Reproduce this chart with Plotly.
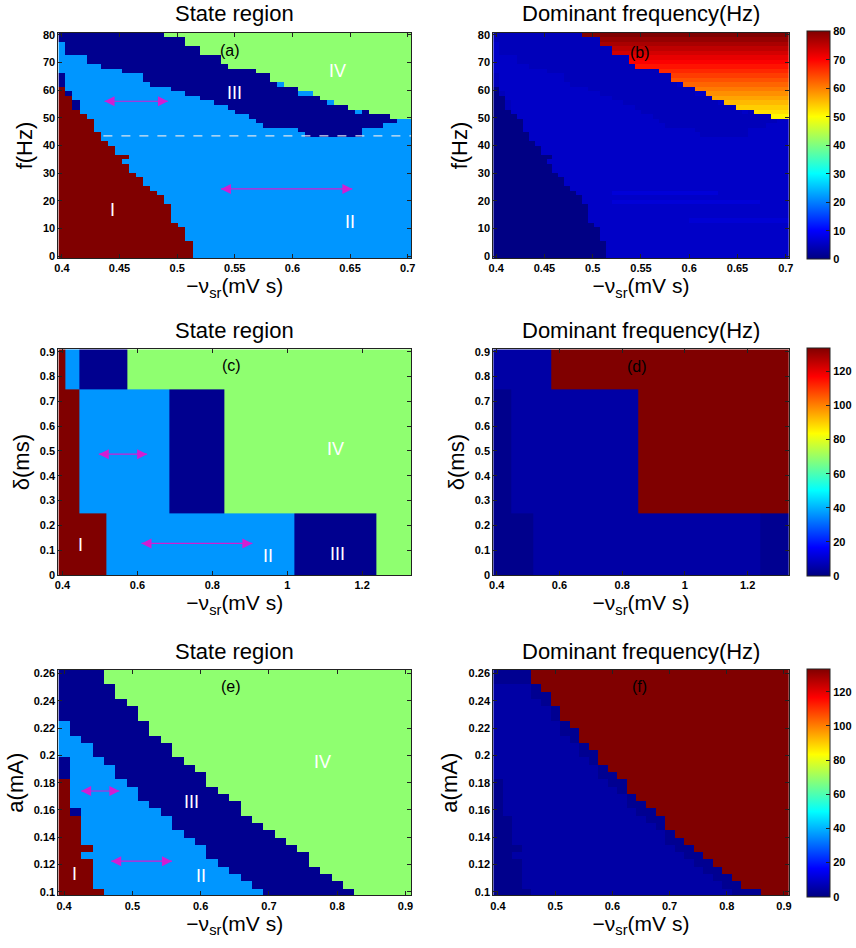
import numpy as np
import plotly.graph_objects as go
from plotly.subplots import make_subplots

# ------------------------------------------------------------------ colours
STATE_COLORS = ["#800000", "#0096FF", "#00008F", "#8FFF70"]   # I, II, III, IV
JET = [[0.0, "rgb(0,0,128)"], [0.125, "rgb(0,0,255)"], [0.375, "rgb(0,255,255)"],
       [0.625, "rgb(255,255,0)"], [0.875, "rgb(255,0,0)"], [1.0, "rgb(128,0,0)"]]
ARROW_COLOR = "#D21ED2"
FONT = "Liberation Sans, Arial, Helvetica, sans-serif"

# ------------------------------------------------------------------ panel (a)/(b): f vs -v_sr
a_x = np.linspace(0.4, 0.7, 50)          # -v_sr grid (mV s)
a_f = np.linspace(0.0, 80.0, 50)         # f grid (Hz)
# upper f limit of state I / II / III in each -v_sr column (Hz)
a_I_top = [61.06, 58.07, 53.28, 51.49, 49.69, 44.9, 41.3, 40.1, 36.77, 36.77,
           30.18, 28.51, 25.16, 23.6, 22.17, 18.57, 12.35, 10.55, 5.77] + [-5.0] * 31
a_II_top = [77.22, 73.03, 73.03, 73.03, 69.44, 69.44, 67.65, 67.65, 67.65, 66.45,
            66.45, 66.45, 62.86, 61.66, 61.66, 61.66, 59.87, 59.27, 57.47, 57.47,
            56.28, 56.28, 55.08, 53.88, 52.69, 51.13, 51.13, 49.94, 48.14, 46.47,
            46.47, 46.47, 46.47, 46.47, 44.91, 43.48, 43.48, 43.48, 43.48, 43.48,
            43.48, 43.48, 43.48, 46.47, 46.47, 46.47, 48.14, 48.5, 49.7, 49.7]
a_III_top = [90.0] * 15 + [79.38, 79.38, 79.38, 76.03, 76.03, 72.8, 72.8, 72.8, 69.4, 68.5,
                           67.9, 67.9, 67.9, 66.45, 66.45, 62.86, 62.86, 61.66, 61.66, 59.87,
                           59.87, 58.07, 56.28, 56.28, 54.48, 54.48, 53.28, 52.69, 52.69, 51.49,
                           51.49, 51.49, 50.29, 49.9, 49.7]
# isolated cells (column, row, state)
a_cells = [(0, 38, 3), (0, 39, 3), (0, 40, 3), (1, 36, 3), (2, 33, 3), (2, 34, 3),
           (9, 21, 2), (31, 38, 2), (34, 36, 2), (35, 36, 2), (38, 34, 2), (42, 32, 2)]
# dominant frequency (Hz) of states I, II, III in panel (b); state IV follows f
b_state_freq = {1: 0.3, 2: 5.6, 3: 4.6}
b_bright = [(0.519, 0.63, 22.0, 24.0, 6.9), (0.519, 0.67, 19.0, 21.0, 6.9),
            (0.60, 0.70, 11.5, 13.5, 6.6)]
b_zmax = 80
a_dash_f = 43.47
a_dash_x = (0.436, 0.7031)
a_arrows = [(0.437, 0.492, 56.0), (0.538, 0.652, 24.3)]
a_labels = [("(a)", 0.546, 74.5, "black"), ("IV", 0.639, 66.9, "white"),
            ("III", 0.55, 58.9, "white"), ("I", 0.444, 16.7, "white"),
            ("II", 0.65, 12.3, "white")]
b_labels = [("(b)", 0.5495, 73.8, "black")]

# ------------------------------------------------------------------ panel (c)/(d): delta vs -v_sr
c_x_edges = [0.389, 0.409, 0.445, 0.518, 0.574, 0.685, 0.832, 1.018, 1.239, 1.331]
c_y_edges = [0.0, 0.25, 0.75, 0.91]
c_states = [[1, 1, 1, 2, 2, 2, 2, 3, 4],
            [1, 1, 2, 2, 2, 3, 4, 4, 4],
            [1, 2, 3, 3, 4, 4, 4, 4, 4]]
d_x_edges = [0.389, 0.445, 0.518, 0.574, 0.852, 1.239, 1.331]
d_freq = [[1.6, 1.6, 4.9, 4.9, 4.9, 2.2],
          [1.6, 4.9, 4.9, 4.9, 133.5, 133.5],
          [4.9, 4.9, 4.9, 133.5, 133.5, 133.5]]
d_zmax = 133.5
c_arrows = [(0.497, 0.626, 0.487), (0.611, 0.907, 0.127)]
c_labels = [("(c)", 0.852, 0.843, "black"), ("IV", 1.13, 0.506, "white"),
            ("I", 0.447, 0.122, "white"), ("II", 0.95, 0.078, "white"),
            ("III", 1.134, 0.084, "white")]
d_labels = [("(d)", 0.846, 0.839, "black")]

# ------------------------------------------------------------------ panel (e)/(f): a vs -v_sr
e_x = np.linspace(0.4, 0.9, 31)          # -v_sr grid (mV s)
e_a = np.linspace(0.1, 0.26, 31)         # a grid (mA)
# number of grid rows (from the bottom) below the top of state I / II / III
e_I_rows = [16, 11, 7, 1] + [0] * 27
e_II_rows = [24, 22, 21, 19, 18, 16, 15, 13, 12, 11, 9, 8, 7, 5, 4, 3, 2, 1] + [0] * 13
e_III_rows = [31, 31, 31, 31, 29, 27, 26, 24, 22, 21, 19, 18, 17, 15, 14, 13, 11, 10, 9, 8,
              7, 6, 4, 3, 2, 1, 0, 0, 0, 0, 0]
e_cells = [(0, 16, 3), (0, 17, 3), (0, 18, 3), (1, 11, 3), (2, 5, 2)]
# panel (f): first row of the 133 Hz response in each column
f_red_rows = [31, 31, 31, 31, 29, 28, 26, 24, 23, 21, 20, 18, 17, 16, 14, 13, 12, 11, 9, 8,
              7, 6, 5, 4, 3, 2, 1, 1, 0, 0, 0]
f_state_freq = {1: 1.6, 2: 4.9, 3: 4.9}
f_edge_freq = 2.2
f_edge_rows = 2
f_high = 133.5
e_arrows = [(0.425, 0.481, 0.1739), (0.469, 0.558, 0.1225)]
e_labels = [("(e)", 0.644, 0.2503, "black"), ("IV", 0.778, 0.1953, "white"),
            ("III", 0.586, 0.166, "white"), ("I", 0.415, 0.1133, "white"),
            ("II", 0.600, 0.1116, "white")]
f_labels = [("(f)", 0.648, 0.2506, "black")]

# ------------------------------------------------------------------ build grids
a_state = np.zeros((len(a_f), len(a_x)), dtype=int)
for k in range(len(a_x)):
    for j, fv in enumerate(a_f):
        if fv < a_I_top[k]:
            s = 1
        elif fv < a_II_top[k]:
            s = 2
        elif fv < a_III_top[k]:
            s = 3
        else:
            s = 4
        a_state[j, k] = s
for k, j, s in a_cells:
    a_state[j, k] = s

b_z = np.zeros(a_state.shape)
for j, fv in enumerate(a_f):
    for k, xv in enumerate(a_x):
        s = a_state[j, k]
        if s == 4:
            b_z[j, k] = fv
        else:
            v = b_state_freq[s]
            if s == 2:
                for x0, x1, f0, f1, bv in b_bright:
                    if x0 <= xv <= x1 and f0 <= fv <= f1:
                        v = bv
            b_z[j, k] = v

e_state = np.zeros((len(e_a), len(e_x)), dtype=int)
for k in range(len(e_x)):
    for j in range(len(e_a)):
        if j < e_I_rows[k]:
            s = 1
        elif j < e_II_rows[k]:
            s = 2
        elif j < e_III_rows[k]:
            s = 3
        else:
            s = 4
        e_state[j, k] = s
for k, j, s in e_cells:
    e_state[j, k] = s

f_z = np.zeros(e_state.shape)
for k in range(len(e_x)):
    for j in range(len(e_a)):
        if j >= f_red_rows[k]:
            f_z[j, k] = f_high
        elif j >= f_red_rows[k] - f_edge_rows and e_state[j, k] != 1:
            f_z[j, k] = f_edge_freq
        else:
            s = e_state[j, k]
            f_z[j, k] = f_state_freq[1] if s == 1 else f_state_freq[2]

# ------------------------------------------------------------------ figure
W, H = 856, 948
fig = make_subplots(rows=3, cols=2)

state_scale = []
for i, c in enumerate(STATE_COLORS):
    state_scale += [[i / 4, c], [(i + 1) / 4, c]]

def half(v):
    return (v[1] - v[0]) / 2

# left column: states
fig.add_trace(go.Heatmap(x=a_x, y=a_f, z=a_state, colorscale=state_scale, zmin=0.5, zmax=4.5,
                         showscale=False, hoverinfo="skip"), row=1, col=1)
fig.add_trace(go.Heatmap(x=c_x_edges, y=c_y_edges, z=c_states, colorscale=state_scale,
                         zmin=0.5, zmax=4.5, showscale=False, hoverinfo="skip"), row=2, col=1)
fig.add_trace(go.Heatmap(x=e_x, y=e_a, z=e_state, colorscale=state_scale, zmin=0.5, zmax=4.5,
                         showscale=False, hoverinfo="skip"), row=3, col=1)

rows_px = [(29, 257), (349, 577), (673, 901)]
rows_dom = [(1 - b / H, 1 - t / H) for t, b in rows_px]

# right column: dominant frequency
col_x = 811 / W
def cbar(row_dom, dtick, zmax):
    return dict(x=col_x, xanchor="left", xpad=0, thickness=23, thicknessmode="pixels",
                len=228, lenmode="pixels", y=(row_dom[0] + row_dom[1]) / 2, yanchor="middle",
                ypad=0, outlinecolor="#222", outlinewidth=1, ticks="inside", ticklen=4,
                tickcolor="#222", tick0=0, dtick=dtick,
                tickfont=dict(family=FONT, size=11, color="black", weight="bold"))

fig.add_trace(go.Heatmap(x=a_x, y=a_f, z=b_z, colorscale=JET, zmin=0, zmax=b_zmax,
                         colorbar=cbar(rows_dom[0], 10, b_zmax), hoverinfo="skip"), row=1, col=2)
fig.add_trace(go.Heatmap(x=d_x_edges, y=c_y_edges, z=d_freq, colorscale=JET, zmin=0, zmax=d_zmax,
                         colorbar=cbar(rows_dom[1], 20, d_zmax), hoverinfo="skip"), row=2, col=2)
fig.add_trace(go.Heatmap(x=e_x, y=e_a, z=f_z, colorscale=JET, zmin=0, zmax=d_zmax,
                         colorbar=cbar(rows_dom[2], 20, d_zmax), hoverinfo="skip"), row=3, col=2)

# double-headed arrows
def add_arrows(arrows, row, col):
    for x0, x1, y in arrows:
        fig.add_trace(go.Scatter(x=[x0, x1], y=[y, y], mode="lines+markers",
                                 line=dict(color=ARROW_COLOR, width=1.2),
                                 marker=dict(symbol=["arrow-left", "arrow-right"], size=10,
                                             color=ARROW_COLOR, line=dict(width=0)),
                                 hoverinfo="skip", showlegend=False), row=row, col=col)

add_arrows(a_arrows, 1, 1)
add_arrows(c_arrows, 2, 1)
add_arrows(e_arrows, 3, 1)

xdom_left = (54 / W, 411 / W)
xdom_right = (494 / W, 793 / W)

axis_common = dict(showline=True, linecolor="#222", linewidth=1, mirror="ticks",
                   ticks="inside", ticklen=4, tickcolor="#222", showgrid=False, zeroline=False,
                   tickfont=dict(family=FONT, size=11, color="black", weight="bold"))

a_range_x = [a_x[0] - half(a_x), a_x[-1] + half(a_x)]
a_range_y = [a_f[0] - half(a_f), a_f[-1] + half(a_f)]
e_range_x = [e_x[0] - half(e_x), e_x[-1] + half(e_x)]
e_range_y = [e_a[0] - half(e_a), e_a[-1] + half(e_a)]
c_range_x = [c_x_edges[0], c_x_edges[-1]]
c_range_y = [c_y_edges[0], c_y_edges[-1]]

x_title = "\u2212\u03bd<sub>sr</sub>(mV s)"
y_titles = ["f(Hz)", "\u03b4(ms)", "a(mA)"]

specs = [
    (1, 1, xdom_left, rows_dom[0], a_range_x, a_range_y, 0.05, 10, 0),
    (1, 2, xdom_right, rows_dom[0], a_range_x, a_range_y, 0.05, 10, 0),
    (2, 1, xdom_left, rows_dom[1], c_range_x, c_range_y, 0.2, 0.1, 0.1),
    (2, 2, xdom_right, rows_dom[1], c_range_x, c_range_y, 0.2, 0.1, 0.1),
    (3, 1, xdom_left, rows_dom[2], e_range_x, e_range_y, 0.1, 0.02, 0.1),
    (3, 2, xdom_right, rows_dom[2], e_range_x, e_range_y, 0.1, 0.02, 0.1),
]
for r, c, xd, yd, xr, yr, xdt, ydt, y0 in specs:
    fig.update_xaxes(row=r, col=c, domain=list(xd), range=xr, tick0=0.4, dtick=xdt,
                     title=dict(text=x_title, standoff=0,
                                font=dict(family=FONT, size=21, color="black")),
                     **axis_common)
    fig.update_yaxes(row=r, col=c, domain=list(yd), range=yr, tick0=y0, dtick=ydt,
                     title=dict(text=y_titles[r - 1], standoff=4,
                                font=dict(family=FONT, size=22, color="black")),
                     **axis_common)

annotations = []
TITLE_FONT = dict(family=FONT, size=22, color="black")

# panel titles
titles = ["State region", "Dominant frequency(Hz)"]
x_centers = [(xdom_left[0] + xdom_left[1]) / 2, (xdom_right[0] + xdom_right[1]) / 2]
for r, (t, b) in enumerate(rows_px):
    for ci in range(2):
        annotations.append(dict(text=titles[ci], xref="paper", yref="paper", x=x_centers[ci],
                                y=1 - (t - 19) / H, xanchor="center", yanchor="middle",
                                showarrow=False, font=TITLE_FONT))

def add_labels(labels, aid):
    for txt, x, y, color in labels:
        annotations.append(dict(text=txt, x=x, y=y, xref=f"x{aid}", yref=f"y{aid}",
                                showarrow=False, xanchor="center", yanchor="middle",
                                font=dict(family=FONT, size=18 if color == "white" else 16,
                                          color=color)))

add_labels(a_labels, "")
add_labels(b_labels, "2")
add_labels(c_labels, "3")
add_labels(d_labels, "4")
add_labels(e_labels, "5")
add_labels(f_labels, "6")

fig.add_shape(type="line", xref="x", yref="y", x0=a_dash_x[0], x1=a_dash_x[1],
              y0=a_dash_f, y1=a_dash_f, line=dict(color="#DDE6F0", width=1.2, dash="dash"))

fig.update_layout(width=W, height=H, margin=dict(l=0, r=0, t=0, b=0),
                  paper_bgcolor="white", plot_bgcolor="white", annotations=annotations,
                  font=dict(family=FONT, color="black"), showlegend=False)

fig.write_html("out.html", config={"displayModeBar": False},
               post_script="document.body.style.margin='0';")
